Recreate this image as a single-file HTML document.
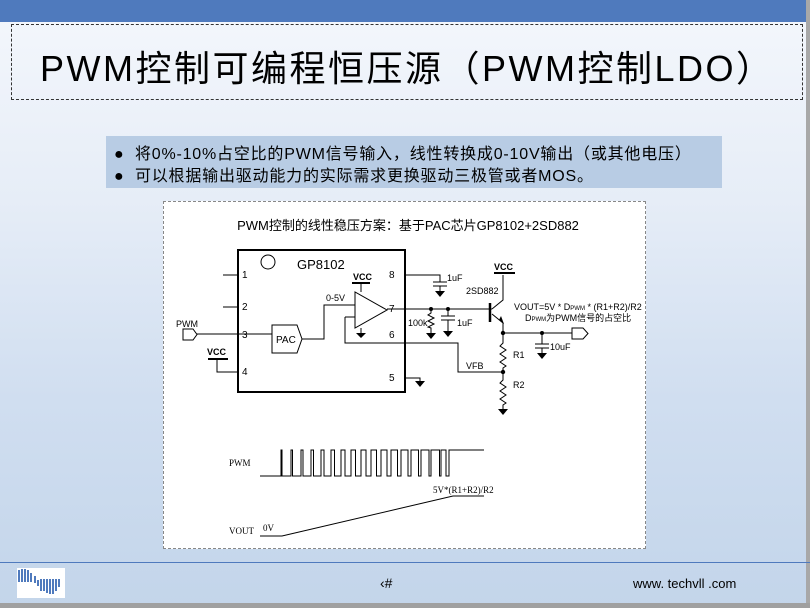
<!DOCTYPE html>
<html><head><meta charset="utf-8"><style>
html,body{margin:0;padding:0}
body{width:810px;height:608px;position:relative;overflow:hidden;background:linear-gradient(#f4f7fc 0px,#e6edf7 200px,#d0def0 400px,#c3d5ea 608px);font-family:"Liberation Sans","Noto Sans CJK SC",sans-serif}
.bar{position:absolute;left:0;top:0;width:810px;height:22px;background:#4f7abd}
.tbox{position:absolute;left:11px;top:24px;width:790px;height:74px;border:1px dashed #333}
.title{position:absolute;left:40px;top:40px;font-size:36px;color:#000;white-space:nowrap;letter-spacing:2.5px}
.bul{position:absolute;left:106px;top:136px;width:616px;height:52px;background:#b8cce4}
.bul div{position:absolute;left:8px;font-size:16px;white-space:nowrap;color:#000;letter-spacing:0.8px}
.dia{position:absolute;left:163px;top:201px;width:481px;height:346px;background:#fff;border:1px dashed #888}
.foot{position:absolute;left:0;top:562px;width:810px;height:1px;background:#4f7abd}
.gray{position:absolute;left:0;top:603px;width:810px;height:5px;background:#a0a0a0}
.rg{position:absolute;left:806px;top:0;width:4px;height:608px;background:#a8a8a8}
</style></head><body>
<div class="bar"></div>
<div class="rg"></div>
<div class="tbox"></div>
<div class="title">PWM控制可编程恒压源（PWM控制LDO）</div>
<div class="bul"><div style="top:4px">●&nbsp; 将0%-10%占空比的PWM信号输入，线性转换成0-10V输出（或其他电压）</div><div style="top:26px">●&nbsp; 可以根据输出驱动能力的实际需求更换驱动三极管或者MOS。</div></div>
<div class="dia"></div>
<svg style="position:absolute;left:0;top:0" width="810" height="608" font-family="Liberation Sans, Noto Sans CJK SC, sans-serif">
<g fill="none" stroke="#000" stroke-width="1">
<text x="408" y="230" font-size="13" text-anchor="middle" fill="#000" stroke="none">PWM控制的线性稳压方案：基于PAC芯片GP8102+2SD882</text>
<rect x="238" y="250" width="167" height="142" stroke-width="2"/>
<circle cx="268" cy="262" r="7"/>
<path d="M223 275H238M223 307H238M197 334H238M217 359V372H238M208 359H228" />
<path d="M208 359H228" stroke-width="2"/>
<path d="M183 329H193L197 334.5L193 340H183Z"/>
<path d="M238 334H272M272 325H297L302 339L297 353H272Z"/>
<path d="M302 339H324V305H355"/>
<path d="M355 292V328L387 310Z"/>
<path d="M361 283V292M361 328V333M352 283H370"/>
<path d="M352 283H370" stroke-width="2"/>
<path d="M345 317H355M345 317V343H458V372H503"/>
<path d="M387 309H492M490 305V321" />
<path d="M490 303V322" stroke-width="2.5"/>
<path d="M405 275H440V282M433 282H447M433 286H447M440 286V291"/>
<path d="M431 309V313L428 315L434 318L428 321L434 324L428 327L431 328V333"/>
<path d="M448 309V316M441 316H455M441 320H455M448 320V331"/>
<path d="M492 309L503 300V275M494 273H515" /><path d="M494 273H515" stroke-width="2"/>
<path d="M492 314L503 323V343L500 346L506 350L500 354L506 358L500 362L506 366L503 368V380L500 383L506 387L500 391L506 395L500 399L506 403L503 405V409"/>
<path d="M503 333H572M572 328H583L588 333.5L583 339H572Z"/>
<path d="M542 333V344M535 344H549M535 348H549M542 348V353"/>
<path d="M405 378H420V381"/>
</g>
<g fill="#000">
<circle cx="431" cy="309" r="2"/><circle cx="448" cy="309" r="2"/><circle cx="503" cy="333" r="2.2"/><circle cx="542" cy="333" r="2"/><circle cx="503" cy="372" r="2.2"/>
<path d="M499 320L504 324L501 316Z"/>
<path d="M356 333H366L361 338Z M435 291H445L440 297Z M426 333H436L431 339Z M443 331H453L448 337Z M537 353H547L542 359Z M498 409H508L503 415Z M415 381H425L420 387Z"/>
<g font-size="10">
<text x="297" y="269" font-size="13">GP8102</text>
<text x="242" y="278">1</text><text x="242" y="310">2</text><text x="242" y="338">3</text><text x="242" y="375">4</text>
<text x="389" y="278">8</text><text x="389" y="312">7</text><text x="389" y="338">6</text><text x="389" y="381">5</text>
<text x="276" y="343">PAC</text>
<text x="176" y="327" font-size="9">PWM</text>
<text x="207" y="355" font-size="9" font-weight="bold">VCC</text>
<text x="353" y="280" font-size="9" font-weight="bold">VCC</text>
<text x="494" y="270" font-size="9" font-weight="bold">VCC</text>
<text x="326" y="301" font-size="9">0-5V</text>
<text x="447" y="281" font-size="9">1uF</text>
<text x="466" y="294" font-size="9">2SD882</text>
<text x="408" y="326" font-size="9">100k</text>
<text x="457" y="326" font-size="9">1uF</text>
<text x="514" y="310" font-size="9">VOUT=5V * D<tspan font-size="6">PWM</tspan> * (R1+R2)/R2</text>
<text x="525" y="321" font-size="9">D<tspan font-size="6">PWM</tspan>为PWM信号的占空比</text>
<text x="513" y="358" font-size="9">R1</text><text x="513" y="388" font-size="9">R2</text>
<text x="466" y="369" font-size="9">VFB</text>
<text x="550" y="350" font-size="9">10uF</text>
</g>
<g font-family="Liberation Serif, serif" font-size="9">
<text x="229" y="466">PWM</text><text x="229" y="534">VOUT</text><text x="263" y="531">0V</text>
<text x="433" y="493">5V*(R1+R2)/R2</text>
</g>
</g>
<path fill="none" stroke="#000" d="M260 476H281V450H282V476H291V450H292.5V476H301V450H303V476H311V450H313.5V476H321V450H324V476H331V450H334.5V476H341V450H345V476H351V450H355.5V476H361V450H366V476H371V450H376.5V476H381V450H387V476H391V450H397.5V476H401V450H408V476H411V450H418.5V476H421V450H429V476H431V450H439.5V476H441V450H446V476H449V450H484"/>
<path fill="none" stroke="#000" d="M260 536H282L453 496H484"/>
<g>
<rect x="17" y="568" width="48" height="30" fill="#fff"/>
<path d="M19 570v12M22 569v13M25 569v13M28 570v12M31 573v9M35 576v7M38 580v6M41 579v12M44 579v12M47 579v14M50 579v15M53 579v15M56 579v12M59 579v8" stroke="#4f7abd" stroke-width="2"/>
</g>
<text x="380" y="588" font-size="14" fill="#000">‹#</text>
<text x="633" y="588" font-size="13" fill="#000">www. techvll .com</text>
</svg>
<div class="foot"></div>
<div class="gray"></div>
</body></html>
